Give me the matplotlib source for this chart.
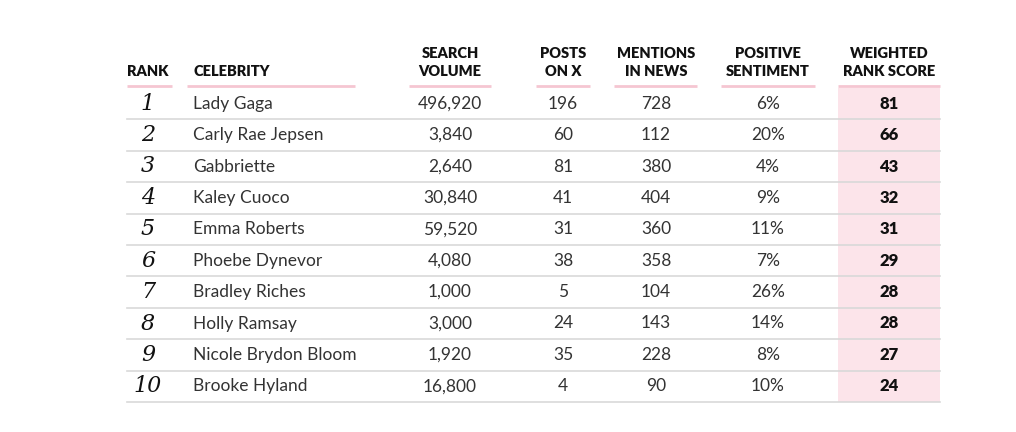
import matplotlib
matplotlib.use("Agg")
import matplotlib.pyplot as plt

ranks = ["1", "2", "3", "4", "5", "6", "7", "8", "9", "10"]
celebrities = ["Lady Gaga", "Carly Rae Jepsen", "Gabbriette", "Kaley Cuoco", "Emma Roberts",
               "Phoebe Dynevor", "Bradley Riches", "Holly Ramsay", "Nicole Brydon Bloom", "Brooke Hyland"]
search_volume = [496920, 3840, 2640, 30840, 59520, 4080, 1000, 3000, 1920, 16800]
posts_on_x = [196, 60, 81, 41, 31, 38, 5, 24, 35, 4]
mentions_in_news = [728, 112, 380, 404, 360, 358, 104, 143, 228, 90]
positive_sentiment = [6, 20, 4, 9, 11, 7, 26, 14, 8, 10]
weighted_score = [81, 66, 43, 32, 31, 29, 28, 28, 27, 24]

headers = ["RANK", "CELEBRITY", "SEARCH\nVOLUME", "POSTS\nON X", "MENTIONS\nIN NEWS",
           "POSITIVE\nSENTIMENT", "WEIGHTED\nRANK SCORE"]

# layout in pixel units
W, H = 1016, 432
col_x = [148, 193, 450, 563, 656, 768, 889]
under = [(127, 172), (187, 355), (409, 491), (536, 590), (614, 697), (721, 815), (838, 940)]
row_top = 88
row_h = 31.4
pink = "#fce4ea"
line_pink = "#f5c6d2"
grey = "#d9d9d9"
txt = "#333333"
font = "Lato"

fig = plt.figure(figsize=(W / 100, H / 100), dpi=100)
ax = fig.add_axes([0, 0, 1, 1])
ax.set_xlim(0, W)
ax.set_ylim(H, 0)
ax.axis("off")

n = len(ranks)
# highlighted column
ax.fill_between([838, 940], row_top, row_top + n * row_h, color=pink, lw=0, zorder=0)

# headers
for x, h, (a, b) in zip(col_x, headers, under):
    left = h in ("RANK", "CELEBRITY")
    hx = 127 if h == "RANK" else x
    ax.text(hx, 78, h, ha="left" if left else "center", va="bottom",
            fontsize=10.5, fontweight="heavy", family=font, color="#111111",
            linespacing=1.5, multialignment="center")
    ax.plot([a, b], [86, 86], color=line_pink, lw=2, solid_capstyle="butt")

for i in range(n):
    yc = row_top + (i + 0.5) * row_h
    yb = row_top + (i + 1) * row_h
    ax.plot([127, 940], [yb, yb], color=grey, lw=1.2, zorder=1)
    ax.text(col_x[0], yc, ranks[i], ha="center", va="center", fontsize=16,
            family="DejaVu Serif", style="italic", color="#111111")
    ax.text(col_x[1], yc, celebrities[i], ha="left", va="center", fontsize=12.5,
            family=font, color=txt)
    vals = [f"{search_volume[i]:,}", str(posts_on_x[i]), str(mentions_in_news[i]),
            f"{positive_sentiment[i]}%"]
    for x, v in zip(col_x[2:6], vals):
        ax.text(x, yc, v, ha="center", va="center", fontsize=12.5, family=font, color=txt)
    ax.text(col_x[6], yc, str(weighted_score[i]), ha="center", va="center", fontsize=12,
            fontweight="heavy", family=font, color="#111111")

fig.savefig("out.png", dpi=100)
